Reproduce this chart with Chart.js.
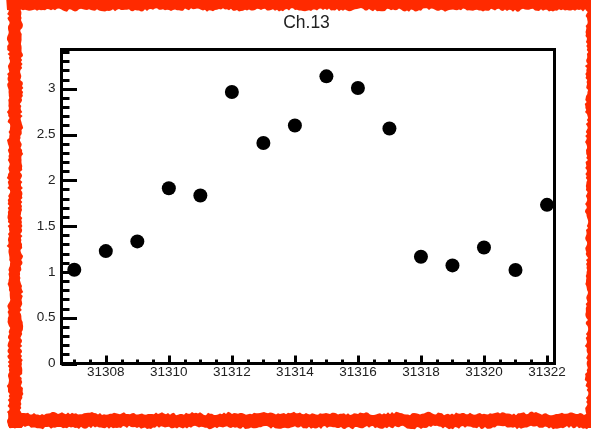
<!DOCTYPE html>
<html>
<head>
<meta charset="utf-8">
<script src="https://cdn.jsdelivr.net/npm/chart.js@4/dist/chart.umd.min.js"></script>
<style>
  html, body { margin: 0; padding: 0; background: #fff; }
  #wrap { width: 591px; height: 435px; }
</style>
</head>
<body>
<div id="wrap"><canvas id="c" width="591" height="435"></canvas></div>
<script>
const runs = [31307, 31308, 31309, 31310, 31311, 31312, 31313, 31314, 31315, 31316, 31317, 31318, 31319, 31320, 31321, 31322]
const values = [1.023, 1.227, 1.333, 1.914, 1.834, 2.964, 2.408, 2.598, 3.135, 3.008, 2.565, 1.165, 1.071, 1.267, 1.020, 1.732]
const xTicks = [31308, 31310, 31312, 31314, 31316, 31318, 31320, 31322]
const yTicks = [0, 0.5, 1, 1.5, 2, 2.5, 3]
const title = "Ch.13"

const ink = "#000"
const red = "#ff2a00"

// rough (brush-like) edge for the red frame, fixed pattern
function wob(i, k) {
  let h = Math.sin(i * 12.9898 + k * 78.233) * 43758.5453
  h = h - Math.floor(h)
  return 0.6 * Math.sin(i * 0.37 + k) + (h - 0.5) * 2.6
}

function bandH(ctx, x0, x1, y0, y1, k) {
  ctx.beginPath()
  ctx.moveTo(x0, y0 + wob(0, k))
  for (let x = x0, i = 0; x <= x1; x += 2, i++) ctx.lineTo(x, y0 + wob(i, k))
  for (let x = x1, i = 0; x >= x0; x -= 2, i++) ctx.lineTo(x, y1 + wob(i, k + 5))
  ctx.closePath()
  ctx.fill()
}

function bandV(ctx, y0, y1, x0, x1, k) {
  ctx.beginPath()
  ctx.moveTo(x0 + wob(0, k), y0)
  for (let y = y0, i = 0; y <= y1; y += 2, i++) ctx.lineTo(x0 + wob(i, k), y)
  for (let y = y1, i = 0; y >= y0; y -= 2, i++) ctx.lineTo(x1 + wob(i, k + 5), y)
  ctx.closePath()
  ctx.fill()
}

const rootFrame = {
  id: "rootFrame",
  beforeDraw(chart) {
    let ctx = chart.ctx
    ctx.save()
    ctx.fillStyle = "#fff"
    ctx.fillRect(0, 0, chart.width, chart.height)
    ctx.fillStyle = red
    bandH(ctx, 6, 591, -4, 10, 1)
    bandH(ctx, 8, 591, 413.5, 427.5, 2)
    bandV(ctx, 0, 428, 8.5, 21.5, 3)
    bandV(ctx, 0, 428, 586.5, 596, 4)
    ctx.restore()
  },
  beforeDatasetsDraw(chart) {
    let ctx = chart.ctx
    let a = chart.chartArea
    let xs = chart.scales.x
    let ys = chart.scales.y
    ctx.save()
    ctx.strokeStyle = ink
    ctx.lineWidth = 3
    ctx.lineCap = "butt"
    // x ticks, every 0.5, inward
    for (let v = 31307; v <= 31322.001; v += 0.5) {
      let px = Math.round(xs.getPixelForValue(v)) + 0.5
      let len = Number.isInteger(v) && v % 2 == 0 ? 8 : 4
      ctx.beginPath()
      ctx.moveTo(px, a.bottom)
      ctx.lineTo(px, a.bottom - len)
      ctx.stroke()
    }
    // y ticks, every 0.1, inward
    for (let i = 0; i <= 34; i++) {
      let v = i / 10
      let py = Math.round(ys.getPixelForValue(v)) + 0.5
      let len = i % 5 == 0 ? 15.5 : 8
      ctx.beginPath()
      ctx.moveTo(a.left, py)
      ctx.lineTo(a.left + len, py)
      ctx.stroke()
    }
    ctx.strokeRect(a.left, a.top, a.right - a.left, a.bottom - a.top)
    ctx.restore()
  },
  afterDraw(chart) {
    let ctx = chart.ctx
    ctx.save()
    ctx.fillStyle = "#222"
    ctx.font = "17.5px 'Liberation Sans', Arial, sans-serif"
    ctx.textAlign = "center"
    ctx.textBaseline = "middle"
    ctx.fillText(title, 306.5, 23.5)
    ctx.restore()
  }
}

let chart = new Chart(document.querySelector("#c"), {
  type: "scatter",
  data: {
    datasets: [{
      data: runs.map((r, i) => ({ x: r, y: values[i] })),
      pointRadius: 7,
      pointHoverRadius: 7,
      pointBackgroundColor: ink,
      pointBorderWidth: 0,
      clip: false
    }]
  },
  options: {
    responsive: false,
    animation: false,
    events: [],
    layout: { padding: { top: 49.5, right: 36.5, left: 0, bottom: 0 } },
    plugins: { legend: { display: false }, tooltip: { enabled: false }, title: { display: false } },
    scales: {
      x: {
        type: "linear",
        min: 31306.594,
        max: 31322.238,
        afterBuildTicks: s => { s.ticks = xTicks.map(v => ({ value: v })) },
        afterFit: s => { s.height = 71.5 },
        grid: { display: false, drawTicks: false },
        border: { display: false },
        ticks: {
          autoSkip: false,
          maxRotation: 0,
          padding: 1,
          color: "#222",
          font: { family: "'Liberation Sans', Arial, sans-serif", size: 13.5 },
          callback: v => String(v)
        }
      },
      y: {
        min: 0,
        max: 3.428,
        afterBuildTicks: s => { s.ticks = yTicks.map(v => ({ value: v })) },
        afterFit: s => { s.width = 61.5 },
        grid: { display: false, drawTicks: false },
        border: { display: false },
        ticks: {
          autoSkip: false,
          padding: 6,
          color: "#222",
          font: { family: "'Liberation Sans', Arial, sans-serif", size: 13.5 },
          callback: v => String(v)
        }
      }
    }
  },
  plugins: [rootFrame]
})
</script>
</body>
</html>
